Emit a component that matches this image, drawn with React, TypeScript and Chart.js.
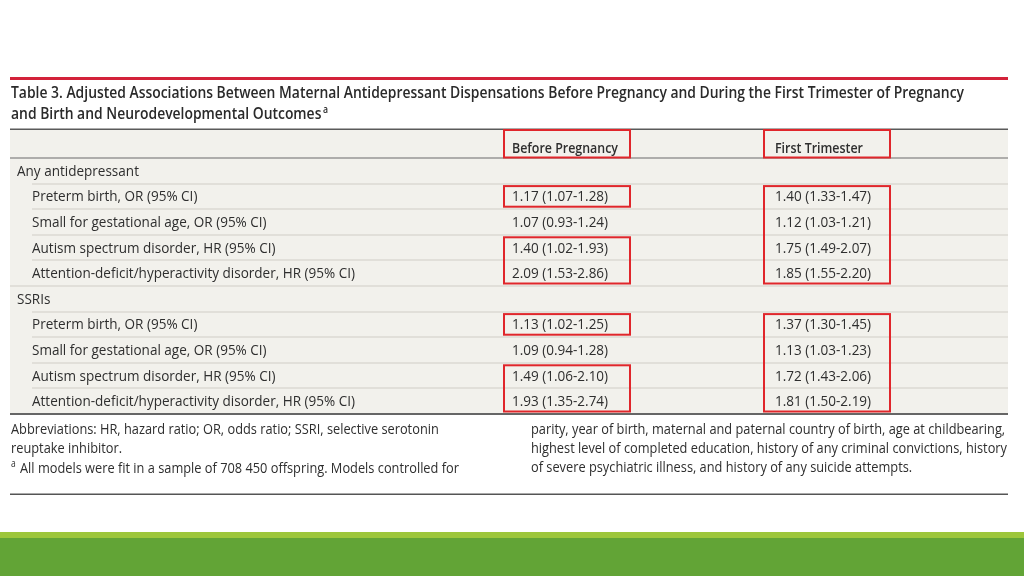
import React, { useEffect, useRef } from "react";
import { Chart, registerables } from "chart.js";

Chart.register(...registerables);

const titleLines = [
  "Table 3. Adjusted Associations Between Maternal Antidepressant Dispensations Before Pregnancy and During the First Trimester of Pregnancy",
  "and Birth and Neurodevelopmental Outcomes",
];
const titleNote = "a";

const columnHeaders = ["Before Pregnancy", "First Trimester"];

const rowLabels = [
  "Any antidepressant",
  "Preterm birth, OR (95% CI)",
  "Small for gestational age, OR (95% CI)",
  "Autism spectrum disorder, HR (95% CI)",
  "Attention-deficit/hyperactivity disorder, HR (95% CI)",
  "SSRIs",
  "Preterm birth, OR (95% CI)",
  "Small for gestational age, OR (95% CI)",
  "Autism spectrum disorder, HR (95% CI)",
  "Attention-deficit/hyperactivity disorder, HR (95% CI)",
];
const isSection = [true, false, false, false, false, true, false, false, false, false];

const beforePregnancy = [
  "", "1.17 (1.07-1.28)", "1.07 (0.93-1.24)", "1.40 (1.02-1.93)", "2.09 (1.53-2.86)",
  "", "1.13 (1.02-1.25)", "1.09 (0.94-1.28)", "1.49 (1.06-2.10)", "1.93 (1.35-2.74)",
];
const firstTrimester = [
  "", "1.40 (1.33-1.47)", "1.12 (1.03-1.21)", "1.75 (1.49-2.07)", "1.85 (1.55-2.20)",
  "", "1.37 (1.30-1.45)", "1.13 (1.03-1.23)", "1.72 (1.43-2.06)", "1.81 (1.50-2.19)",
];
const beforeHighlight = [false, true, false, true, true, false, true, false, true, true];
const firstHighlight = [false, true, true, true, true, false, true, true, true, true];

const footLeft = [
  "Abbreviations: HR, hazard ratio; OR, odds ratio; SSRI, selective serotonin",
  "reuptake inhibitor.",
  "All models were fit in a sample of 708 450 offspring. Models controlled for",
];
const footRight = [
  "parity, year of birth, maternal and paternal country of birth, age at childbearing,",
  "highest level of completed education, history of any criminal convictions, history",
  "of severe psychiatric illness, and history of any suicide attempts.",
];

const TEXT = "#2e2e2e";
const RED = "#e0262b";

function fillScaled(ctx: CanvasRenderingContext2D, text: string, x: number, y: number, sx: number) {
  ctx.save();
  ctx.translate(x, y);
  ctx.scale(sx, 1);
  ctx.fillText(text, 0, 0);
  ctx.restore();
}

const tablePlugin = {
  id: "tablePlugin",
  afterDraw(chart: any) {
    const ctx: CanvasRenderingContext2D = chart.ctx;
    const ys = chart.scales.y;
    const n = rowLabels.length;
    const rowH = (ys.bottom - ys.top) / n;
    const cy = (i: number) => ys.getPixelForValue(i);
    const L = 10, R = 1008;
    const colX = [512, 775];
    const boxX = [[504, 630], [764, 890]];

    ctx.save();
    ctx.fillStyle = "#ffffff";
    ctx.fillRect(0, 0, chart.width, chart.height);
    ctx.fillStyle = "#f2f1ec";
    ctx.fillRect(L, 129, R - L, ys.bottom - 129);

    // red top rule
    ctx.fillStyle = "#d3223a";
    ctx.fillRect(L, 77, R - L, 3);

    // title
    ctx.fillStyle = "#2a2a2a";
    ctx.textBaseline = "alphabetic";
    ctx.font = "600 16px 'Open Sans'";
    const tRatio = 953 / ctx.measureText(titleLines[0]).width;
    fillScaled(ctx, titleLines[0], 11, 97.5, tRatio);
    fillScaled(ctx, titleLines[1], 11, 119, tRatio);
    const t2w = ctx.measureText(titleLines[1]).width * tRatio;
    ctx.font = "600 10px 'Open Sans'";
    fillScaled(ctx, titleNote, 11 + t2w + 1.5, 113, tRatio);

    // header rule
    ctx.fillStyle = "#5a5a5a";
    ctx.fillRect(L, 128.5, R - L, 1.5);

    // column headers
    ctx.fillStyle = TEXT;
    ctx.font = "600 14.5px 'Open Sans'";
    const hRatio = 106 / ctx.measureText(columnHeaders[0]).width;
    columnHeaders.forEach((h, k) => fillScaled(ctx, h, colX[k], 152.5, hRatio));

    // header bottom line
    ctx.fillStyle = "#6a6a6a";
    ctx.fillRect(L, ys.top - 0.5, R - L, 1);

    // row separators
    ctx.fillStyle = "#cfcdc6";
    for (let i = 0; i < n - 1; i++) {
      const y = cy(i) + rowH / 2;
      const x0 = isSection[i + 1] ? L : 32;
      ctx.fillRect(x0, Math.round(y) - 0.5, R - x0, 1);
    }
    // bottom rule
    ctx.fillStyle = "#666666";
    ctx.fillRect(L, ys.bottom - 1, R - L, 2);

    // row text
    ctx.fillStyle = TEXT;
    ctx.font = "14.5px 'Open Sans'";
    const bRatio = 323 / ctx.measureText(rowLabels[4]).width;
    for (let i = 0; i < n; i++) {
      const base = cy(i) + 5;
      fillScaled(ctx, rowLabels[i], isSection[i] ? 17 : 32, base, bRatio);
      if (beforePregnancy[i]) fillScaled(ctx, beforePregnancy[i], colX[0], base, bRatio);
      if (firstTrimester[i]) fillScaled(ctx, firstTrimester[i], colX[1], base, bRatio);
    }

    // red boxes
    ctx.strokeStyle = RED;
    ctx.lineWidth = 2;
    const strokeBox = (x0: number, x1: number, y0: number, y1: number) => {
      ctx.strokeRect(x0, y0, x1 - x0, y1 - y0);
    };
    boxX.forEach(([x0, x1]) => strokeBox(x0, x1, 130, ys.top - 0.5));
    [beforeHighlight, firstHighlight].forEach((hl, k) => {
      let i = 0;
      while (i < n) {
        if (hl[i]) {
          let j = i;
          while (j + 1 < n && hl[j + 1]) j++;
          const y0 = cy(i) - rowH / 2 + 2.5;
          const y1 = cy(j) + rowH / 2 - 2.5;
          strokeBox(boxX[k][0], boxX[k][1], y0, y1);
          i = j + 1;
        } else i++;
      }
    });

    // footnotes
    ctx.fillStyle = "#2e2e2e";
    ctx.font = "15px 'Open Sans'";
    const fRatio = 476 / ctx.measureText(footRight[1]).width;
    fillScaled(ctx, footLeft[0], 11, 433.5, fRatio);
    fillScaled(ctx, footLeft[1], 11, 452.5, fRatio);
    fillScaled(ctx, footLeft[2], 20, 473, fRatio);
    footRight.forEach((t, k) => fillScaled(ctx, t, 531, 433.5 + k * 19, fRatio));
    ctx.font = "10px 'Open Sans'";
    fillScaled(ctx, "a", 11, 467, fRatio);

    // bottom rule
    ctx.fillStyle = "#555555";
    ctx.fillRect(L, 493.5, R - L, 1.5);

    // green band
    ctx.fillStyle = "#9dc63b";
    ctx.fillRect(0, 532, chart.width, 6);
    ctx.fillStyle = "#62a436";
    ctx.fillRect(0, 538, chart.width, chart.height - 538);
    ctx.restore();
  },
};

export default function App() {
  const ref = useRef<HTMLCanvasElement>(null);
  useEffect(() => {
    if (!ref.current) return;
    const chart = new Chart(ref.current, {
      type: "bar",
      data: { labels: rowLabels, datasets: [] },
      options: {
        indexAxis: "y",
        animation: false,
        responsive: false,
        devicePixelRatio: 1,
        layout: { padding: { top: 158, bottom: 162, left: 0, right: 0 } },
        plugins: { legend: { display: false }, tooltip: { enabled: false } },
        scales: {
          y: { type: "category", display: false, offset: true },
          x: { type: "linear", display: false },
        },
      },
      plugins: [tablePlugin],
    } as any);
    return () => chart.destroy();
  }, []);
  return (
    <canvas
      ref={ref}
      width={1024}
      height={576}
      style={{ position: "absolute", left: 0, top: 0, width: 1024, height: 576, display: "block" }}
    />
  );
}
